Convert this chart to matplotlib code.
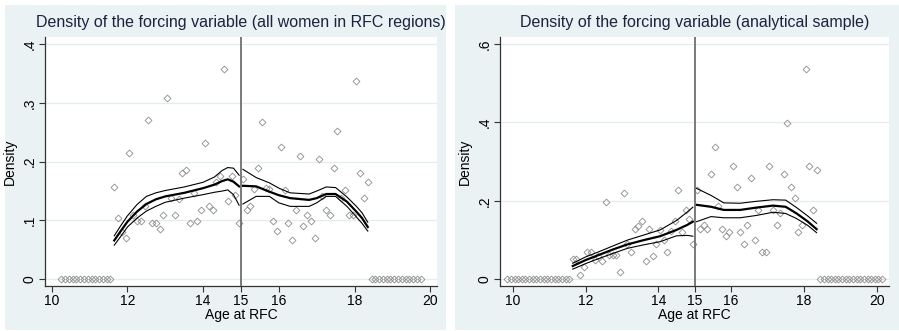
import numpy as np
import matplotlib.pyplot as plt
from matplotlib.patches import Rectangle

plt.rcParams['font.family'] = ['Liberation Sans', 'DejaVu Sans']

# bins of the forcing variable (age at RFC), 0.1 year wide
left_bins = [11.65, 11.75, 11.85, 11.95, 12.05, 12.15, 12.25, 12.35, 12.45, 12.55,
             12.65, 12.75, 12.85, 12.95, 13.05, 13.15, 13.25, 13.35, 13.45, 13.55,
             13.65, 13.75, 13.85, 13.95, 14.05, 14.15, 14.25, 14.35, 14.45, 14.55,
             14.65, 14.75, 14.85, 14.95]
right_bins = [15.05, 15.15, 15.25, 15.35, 15.45, 15.55, 15.65, 15.75, 15.85, 15.95,
              16.05, 16.15, 16.25, 16.35, 16.45, 16.55, 16.65, 16.75, 16.85, 16.95,
              17.05, 17.15, 17.25, 17.35, 17.45, 17.55, 17.65, 17.75, 17.85, 17.95,
              18.05, 18.15, 18.25, 18.35]

# panel 1: all women in RFC regions
zero_x1 = [10.25, 10.35, 10.45, 10.55, 10.65, 10.75, 10.85, 10.95, 11.05, 11.15,
           11.25, 11.35, 11.45, 11.55,
           18.45, 18.55, 18.65, 18.75, 18.85, 18.95, 19.05, 19.15, 19.25, 19.35,
           19.45, 19.55, 19.65, 19.75]
dens1_left = [0.157, 0.105, 0.080, 0.071, 0.214, 0.110, 0.099, 0.099, 0.125, 0.271,
              0.095, 0.095, 0.085, 0.109, 0.309, 0.138, 0.109, 0.137, 0.180, 0.186,
              0.095, 0.147, 0.099, 0.118, 0.232, 0.124, 0.118, 0.166, 0.176, 0.357,
              0.133, 0.176, 0.143, 0.095]
dens1_right = [0.171, 0.118, 0.124, 0.153, 0.190, 0.267, 0.156, 0.153, 0.099, 0.082,
               0.225, 0.152, 0.095, 0.067, 0.118, 0.210, 0.091, 0.109, 0.099, 0.071,
               0.205, 0.142, 0.118, 0.109, 0.190, 0.252, 0.138, 0.152, 0.109, 0.109,
               0.338, 0.180, 0.138, 0.166]

# local linear fit and 95% band, panel 1
fit1_lx = [11.65, 11.8, 12.0, 12.25, 12.5, 12.75, 13.0, 13.5, 14.0, 14.3, 14.5, 14.65, 14.8, 14.95]
fit1_l = [0.066, 0.080, 0.098, 0.115, 0.128, 0.136, 0.141, 0.147, 0.155, 0.161, 0.167, 0.170, 0.166, 0.158]
up1_l = [0.074, 0.089, 0.108, 0.127, 0.141, 0.147, 0.151, 0.157, 0.165, 0.174, 0.185, 0.190, 0.189, 0.177]
lo1_l = [0.058, 0.071, 0.089, 0.104, 0.116, 0.124, 0.131, 0.138, 0.144, 0.148, 0.150, 0.152, 0.144, 0.126]

fit1_rx = [15.05, 15.4, 15.75, 16.0, 16.3, 16.8, 17.0, 17.25, 17.5, 17.8, 18.05, 18.2, 18.35]
fit1_r = [0.159, 0.158, 0.149, 0.143, 0.138, 0.135, 0.138, 0.145, 0.145, 0.132, 0.115, 0.104, 0.089]
up1_r = [0.187, 0.173, 0.164, 0.155, 0.147, 0.145, 0.150, 0.157, 0.156, 0.140, 0.124, 0.113, 0.097]
lo1_r = [0.128, 0.141, 0.141, 0.130, 0.124, 0.124, 0.130, 0.141, 0.141, 0.124, 0.106, 0.095, 0.082]

# panel 2: analytical sample
zero_x2 = [9.85, 9.95, 10.05, 10.15, 10.25, 10.35, 10.45, 10.55, 10.65, 10.75,
           10.85, 10.95, 11.05, 11.15, 11.25, 11.35, 11.45, 11.55,
           18.45, 18.55, 18.65, 18.75, 18.85, 18.95, 19.05, 19.15, 19.25, 19.35,
           19.45, 19.55, 19.65, 19.75, 19.85, 19.95, 20.05, 20.15]
dens2_left = [0.051, 0.051, 0.011, 0.031, 0.069, 0.069, 0.050, 0.060, 0.047, 0.198,
              0.062, 0.062, 0.062, 0.019, 0.219, 0.090, 0.069, 0.128, 0.137, 0.148,
              0.046, 0.128, 0.060, 0.089, 0.127, 0.100, 0.069, 0.124, 0.148, 0.229,
              0.121, 0.177, 0.155, 0.089]
dens2_right = [0.228, 0.128, 0.138, 0.128, 0.268, 0.338, 0.188, 0.128, 0.110, 0.120,
               0.289, 0.236, 0.120, 0.089, 0.139, 0.258, 0.100, 0.177, 0.069, 0.069,
               0.289, 0.177, 0.139, 0.168, 0.268, 0.398, 0.236, 0.208, 0.120, 0.139,
               0.536, 0.289, 0.177, 0.279]

fit2_lx = [11.65, 12.0, 12.25, 12.75, 13.15, 13.6, 14.05, 14.5, 14.8, 14.95]
fit2_l = [0.034, 0.049, 0.058, 0.076, 0.089, 0.100, 0.110, 0.126, 0.139, 0.147]
up2_l = [0.041, 0.057, 0.066, 0.085, 0.100, 0.113, 0.126, 0.150, 0.172, 0.184]
lo2_l = [0.026, 0.040, 0.049, 0.066, 0.079, 0.088, 0.096, 0.111, 0.112, 0.110]

fit2_rx = [15.05, 15.45, 15.8, 16.25, 16.7, 17.15, 17.5, 17.8, 18.1, 18.35]
fit2_r = [0.190, 0.185, 0.177, 0.177, 0.183, 0.188, 0.185, 0.168, 0.148, 0.128]
up2_r = [0.232, 0.214, 0.195, 0.194, 0.199, 0.203, 0.202, 0.183, 0.162, 0.143]
lo2_r = [0.147, 0.160, 0.157, 0.157, 0.163, 0.171, 0.168, 0.155, 0.138, 0.119]

W, H = 899, 331
fig = plt.figure(figsize=(W / 100, H / 100), dpi=100)
fig.patch.set_facecolor('white')

bg = '#eaf2f3'
grid_c = '#e3ecee'
fig.patches.append(Rectangle((5 / W, 1 / H), 441 / W, 325 / H, transform=fig.transFigure,
                             facecolor=bg, edgecolor='none', zorder=-5))
fig.patches.append(Rectangle((455 / W, 1 / H), 444 / W, 325 / H, transform=fig.transFigure,
                             facecolor=bg, edgecolor='none', zorder=-5))


def panel(x0, x1, xlim, ylim, yticks, ylabels, title, zero_x, dl, dr,
          lx, fl, ul, ll, rx, fr, ur, lr):
    ax = fig.add_axes([x0 / W, (H - 286) / H, (x1 - x0) / W, 249 / H])
    ax.set_facecolor('white')
    for s in ['top', 'right']:
        ax.spines[s].set_visible(False)
    for s in ['left', 'bottom']:
        ax.spines[s].set_color('#333333')
        ax.spines[s].set_linewidth(0.9)
    ax.set_xlim(*xlim)
    ax.set_ylim(*ylim)
    ax.set_yticks(yticks)
    ax.set_yticklabels(ylabels, rotation=90, va='center')
    ax.set_xticks([10, 12, 14, 15, 16, 18, 20])
    ax.set_xticklabels(['10', '12', '14', '15', '16', '18', '20'])
    ax.tick_params(direction='out', length=4, width=0.8, color='#333333',
                   labelsize=10, pad=2)
    for t in yticks:
        ax.axhline(t, color=grid_c, lw=0.9, zorder=0)

    mk = dict(marker='D', ms=3.5, mfc='none', mec='#8c8c8c', mew=0.6, ls='none', zorder=2)
    ax.plot(zero_x, [0] * len(zero_x), **mk)
    ax.plot(left_bins, dl, **mk)
    ax.plot(right_bins, dr, **mk)

    ax.plot(lx, fl, color='black', lw=1.6, zorder=3)
    ax.plot(lx, ul, color='black', lw=0.8, zorder=3)
    ax.plot(lx, ll, color='black', lw=0.8, zorder=3)
    ax.plot(rx, fr, color='black', lw=1.6, zorder=3)
    ax.plot(rx, ur, color='black', lw=0.8, zorder=3)
    ax.plot(rx, lr, color='black', lw=0.8, zorder=3)

    ax.axvline(15, color='#707070', lw=1.3, zorder=4)

    ax.set_title(title, fontsize=11.5, color='#1a2340', pad=7)
    ax.set_xlabel('Age at RFC', fontsize=10, labelpad=0)
    ax.set_ylabel('Density', fontsize=10, labelpad=4)
    return ax


panel(45, 437, (9.82, 20.18), (-0.0114, 0.412), [0, 0.1, 0.2, 0.3, 0.4],
      ['0', '.1', '.2', '.3', '.4'],
      'Density of the forcing variable (all women in RFC regions)',
      zero_x1, dens1_left, dens1_right,
      fit1_lx, fit1_l, up1_l, lo1_l, fit1_rx, fit1_r, up1_r, lo1_r)

panel(500, 889, (9.65, 20.34), (-0.017, 0.618), [0, 0.2, 0.4, 0.6],
      ['0', '.2', '.4', '.6'],
      'Density of the forcing variable (analytical sample)',
      zero_x2, dens2_left, dens2_right,
      fit2_lx, fit2_l, up2_l, lo2_l, fit2_rx, fit2_r, up2_r, lo2_r)

fig.savefig('out.png', dpi=100, facecolor=fig.get_facecolor())
